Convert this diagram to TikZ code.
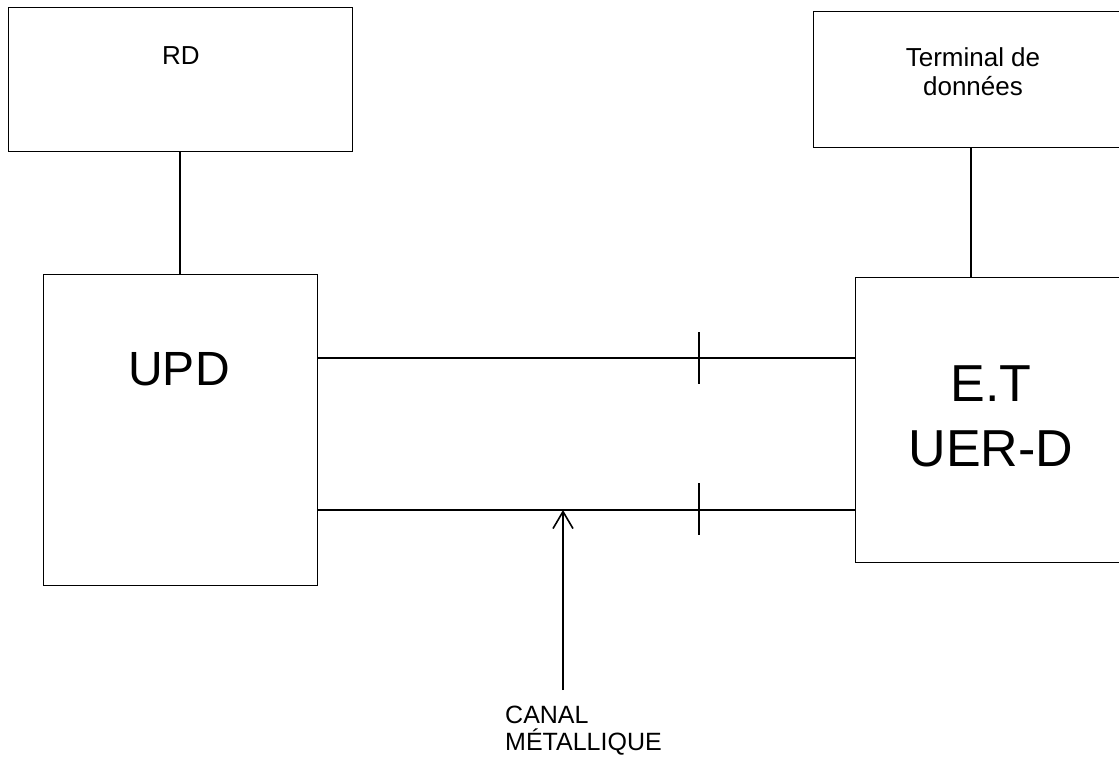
\documentclass[tikz,border=0pt]{standalone}
\usepackage{fontspec}
\setmainfont{Liberation Sans}
\usetikzlibrary{arrows.meta}
\begin{document}
\begin{tikzpicture}[x=1pt,y=-1pt,
  box/.style={draw, line width=1pt, inner sep=0pt, minimum width=#1},
  wire/.style={line width=1.6pt},
  small/.style={font=\fontsize{26}{29}\selectfont, inner sep=0pt, align=center},
  big/.style={inner sep=0pt, align=center}]
\useasboundingbox (0,0) rectangle (1119,759);
\clip (0,0) rectangle (1119,759);
% boxes
\node[box=344pt, minimum height=144pt] (rd)  at (180,80) {};
\node[box=274pt, minimum height=310pt] (upd) at (180,430) {};
\node[box=316pt, minimum height=136pt] (term) at (971,80) {};
\node[box=270pt, minimum height=284pt] (et)  at (990,420) {};
% texts
\node[small, anchor=north] (rdt) at (181,46) {RD};
\node[small, anchor=north] (termt) at (973,47) {Terminal de\\données};
\node[big, anchor=north, font=\fontsize{48}{48}\selectfont] (updt) at (179,352) {UPD};
\node[big, anchor=north, font=\fontsize{52}{65}\selectfont] (ett) at (991,366) {E.T\\UER-D};
\node[small, anchor=north west, align=left, font=\fontsize{25}{27}\selectfont] (canal) at (505,706) {CANAL\\MÉTALLIQUE};
% vertical links
\draw[wire] (rd.south) -- (upd.north);
\draw[wire] (term.south) -- (term.south |- et.north);
% horizontal lines
\coordinate (ytop) at (0,358);
\coordinate (ybot) at (0,510);
\draw[wire] (upd.east |- ytop) -- (et.west |- ytop);
\draw[wire] (upd.east |- ybot) -- (et.west |- ybot);
% ticks
\coordinate (t1a) at (699,332); \coordinate (t1b) at (699,384);
\coordinate (t2a) at (699,483); \coordinate (t2b) at (699,535);
\draw[wire] (t1a) -- (t1b);
\draw[wire] (t2a) -- (t2b);
% arrow
\coordinate (afoot) at (563,690);
\coordinate (atip) at (563,510);
\draw[wire, -{Straight Barb[length=17pt, width=20pt]}] (afoot) -- (atip);
\end{tikzpicture}
\end{document}
